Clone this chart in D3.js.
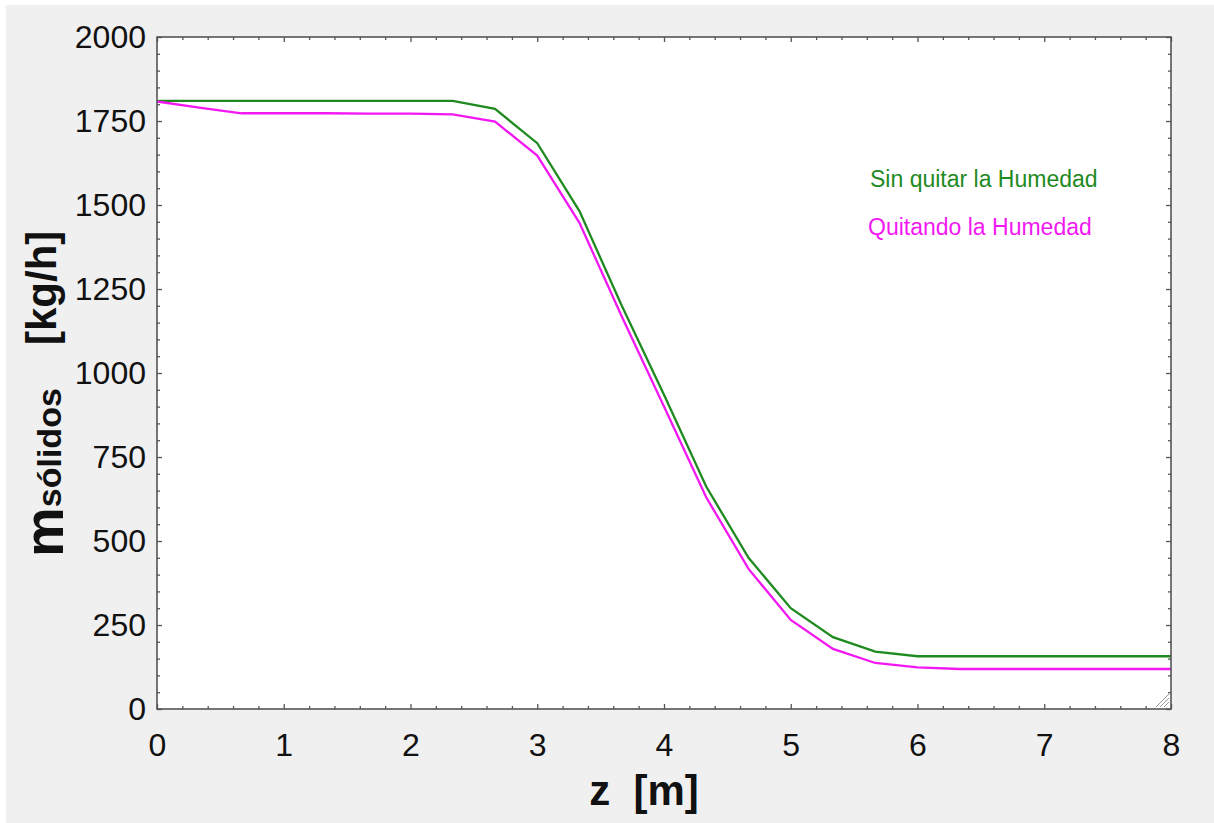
<!DOCTYPE html>
<html>
<head>
<meta charset="utf-8">
<script src="https://cdn.jsdelivr.net/npm/d3@7"></script>
<style>
  body { margin: 0; background: #ffffff; }
  svg { display: block; font-family: "Liberation Sans", Arial, sans-serif; }
</style>
</head>
<body>
<script>
'use strict';

// axial position along the dryer [m]
const zValues = [0, 0.333, 0.667, 1, 1.333, 1.667, 2, 2.333, 2.667, 3, 3.333, 3.667, 4,
  4.333, 4.667, 5, 5.333, 5.667, 6, 6.333, 6.667, 7, 7.333, 7.667, 8];
// solids flow [kg/h], without removing moisture
const sinQuitar = [1810, 1810, 1810, 1810, 1810, 1810, 1810, 1810, 1786, 1684, 1482, 1200, 935,
  662, 450, 300, 214, 171, 157, 157, 157, 157, 157, 157, 157];
// solids flow [kg/h], removing moisture
const quitando = [1808, 1790, 1773, 1773, 1773, 1772, 1772, 1770, 1748, 1647, 1447, 1168, 900,
  630, 417, 265, 179, 137, 124, 119, 119, 119, 119, 119, 119];
const xTicks = [0, 1, 2, 3, 4, 5, 6, 7, 8];
const yTicks = [0, 250, 500, 750, 1000, 1250, 1500, 1750, 2000];
const legendLabels = ["Sin quitar la Humedad", "Quitando la Humedad"];

(function() {
  const width = 1214, height = 823;
  const pLeft = 157, pRight = 1171, pTop = 37, pBottom = 709;
  const green = "#1f8a1f", magenta = "#f218f2";

  const svg = d3.select("body").append("svg")
    .attr("width", width)
    .attr("height", height);

  // grey panel
  svg.append("rect")
    .attr("x", 6).attr("y", 5)
    .attr("width", width - 6).attr("height", height - 5)
    .attr("fill", "#f0f0f0");

  // plot area
  svg.append("rect")
    .attr("x", pLeft).attr("y", pTop)
    .attr("width", pRight - pLeft).attr("height", pBottom - pTop)
    .attr("fill", "#ffffff");

  const x = d3.scaleLinear().domain([0, 8]).range([pLeft, pRight]);
  const y = d3.scaleLinear().domain([0, 2000]).range([pBottom, pTop]);

  // minor tick values
  const xMinor = d3.range(0, 40).map(i => i * 0.2).filter(v => Math.abs(v - Math.round(v)) > 1e-6);
  const yMinor = d3.range(0, 40).map(i => i * 50).filter(v => v % 250 !== 0);

  function styleAxis(g) {
    g.select(".domain").remove();
    g.selectAll("line").attr("stroke", "#555").attr("stroke-width", 1.3);
    g.selectAll("text").attr("fill", "#111").style("font-size", "32px");
  }

  // bottom axis with labels
  svg.append("g")
    .attr("transform", `translate(0,${pBottom})`)
    .call(d3.axisBottom(x).tickValues(xTicks).tickSize(-5).tickPadding(24).tickFormat(d3.format("d")))
    .call(styleAxis);
  svg.append("g")
    .attr("transform", `translate(0,${pBottom})`)
    .call(d3.axisBottom(x).tickValues(xMinor).tickSize(-3).tickFormat(""))
    .call(styleAxis);
  // top axis, ticks only
  svg.append("g")
    .attr("transform", `translate(0,${pTop})`)
    .call(d3.axisTop(x).tickValues(xTicks).tickSize(-5).tickFormat(""))
    .call(styleAxis);
  svg.append("g")
    .attr("transform", `translate(0,${pTop})`)
    .call(d3.axisTop(x).tickValues(xMinor).tickSize(-3).tickFormat(""))
    .call(styleAxis);

  // left axis with labels
  svg.append("g")
    .attr("transform", `translate(${pLeft},0)`)
    .call(d3.axisLeft(y).tickValues(yTicks).tickSize(-5).tickPadding(11).tickFormat(d3.format("d")))
    .call(styleAxis);
  svg.append("g")
    .attr("transform", `translate(${pLeft},0)`)
    .call(d3.axisLeft(y).tickValues(yMinor).tickSize(-3).tickFormat(""))
    .call(styleAxis);
  // right axis, ticks only
  svg.append("g")
    .attr("transform", `translate(${pRight},0)`)
    .call(d3.axisRight(y).tickValues(yTicks).tickSize(-5).tickFormat(""))
    .call(styleAxis);
  svg.append("g")
    .attr("transform", `translate(${pRight},0)`)
    .call(d3.axisRight(y).tickValues(yMinor).tickSize(-3).tickFormat(""))
    .call(styleAxis);

  // data lines
  const line = d3.line()
    .x((d, i) => x(zValues[i]))
    .y(d => y(d));

  svg.append("path")
    .datum(sinQuitar)
    .attr("fill", "none")
    .attr("stroke", green)
    .attr("stroke-width", 2.3)
    .attr("d", line);

  svg.append("path")
    .datum(quitando)
    .attr("fill", "none")
    .attr("stroke", magenta)
    .attr("stroke-width", 2.3)
    .attr("d", line);

  // frame
  svg.append("rect")
    .attr("x", pLeft).attr("y", pTop)
    .attr("width", pRight - pLeft).attr("height", pBottom - pTop)
    .attr("fill", "none")
    .attr("stroke", "#555")
    .attr("stroke-width", 1.6);

  // resize grip in the corner
  for (let k = 0; k < 3; k++) {
    svg.append("line")
      .attr("x1", pRight - 3 - (k + 1) * 4).attr("y1", pBottom - 2)
      .attr("x2", pRight - 2).attr("y2", pBottom - 3 - (k + 1) * 4)
      .attr("stroke", "#999").attr("stroke-width", 1);
  }

  // legend
  svg.append("text")
    .attr("x", 870).attr("y", 187)
    .attr("fill", green)
    .style("font-size", "23px")
    .text(legendLabels[0]);
  svg.append("text")
    .attr("x", 868).attr("y", 235)
    .attr("fill", magenta)
    .style("font-size", "23px")
    .text(legendLabels[1]);

  // x-axis title
  svg.append("text")
    .attr("x", 644).attr("y", 805)
    .attr("text-anchor", "middle")
    .style("font-size", "42px")
    .style("font-weight", "bold")
    .style("white-space", "pre")
    .attr("fill", "#111")
    .text("z  [m]");

  // y-axis title: m with subscript, then units
  const yTitle = svg.append("text")
    .attr("transform", "translate(63,557)rotate(-90)")
    .style("font-weight", "bold")
    .attr("fill", "#111");
  yTitle.append("tspan")
    .attr("x", 0).attr("y", 0)
    .style("font-size", "56px")
    .text("m");
  yTitle.append("tspan")
    .attr("y", -2)
    .style("font-size", "34px")
    .text("sólidos");
  yTitle.append("tspan")
    .attr("x", 212).attr("y", -7)
    .style("font-size", "42px")
    .text("[kg/h]");
})();
</script>
</body>
</html>
